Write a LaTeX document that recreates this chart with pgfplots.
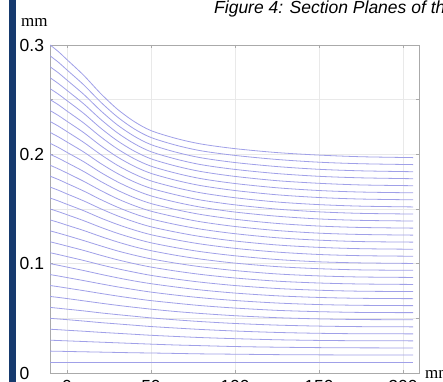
\documentclass[border=0pt]{standalone}
\usepackage{fontspec}
\setmainfont{Liberation Sans}
\newfontfamily\timesfont{Liberation Serif}
\usepackage{pgfplots}
\usepackage{pgfplotstable}
\pgfplotsset{compat=1.18}
\definecolor{meshline}{RGB}{160,160,232}
\definecolor{barblue}{RGB}{22,58,110}
\definecolor{gridgray}{RGB}{233,233,233}
\definecolor{framegray}{RGB}{170,170,170}

\pgfplotstableread{
x y0 y1 y2 y3 y4 y5 y6 y7 y8 y9 y10 y11 y12 y13 y14 y15 y16 y17 y18 y19 y20 y21 y22 y23 y24 y25 y26 y27 y28 y29
-10 0.3000 0.2900 0.2800 0.2700 0.2600 0.2500 0.2400 0.2300 0.2200 0.2100 0.2000 0.1900 0.1800 0.1700 0.1600 0.1500 0.1400 0.1300 0.1200 0.1100 0.1000 0.0900 0.0800 0.0700 0.0600 0.0500 0.0400 0.0300 0.0200 0.0100
-5 0.2938 0.2841 0.2744 0.2646 0.2549 0.2452 0.2354 0.2257 0.2159 0.2062 0.1964 0.1866 0.1769 0.1671 0.1573 0.1475 0.1377 0.1279 0.1181 0.1083 0.0985 0.0887 0.0789 0.0691 0.0592 0.0494 0.0396 0.0297 0.0199 0.0100
0 0.2866 0.2772 0.2679 0.2585 0.2491 0.2396 0.2302 0.2208 0.2113 0.2018 0.1924 0.1829 0.1734 0.1638 0.1543 0.1448 0.1352 0.1257 0.1161 0.1065 0.0969 0.0873 0.0777 0.0681 0.0584 0.0488 0.0391 0.0294 0.0197 0.0100
10 0.2722 0.2635 0.2548 0.2461 0.2374 0.2286 0.2198 0.2109 0.2021 0.1932 0.1843 0.1753 0.1664 0.1574 0.1484 0.1393 0.1303 0.1211 0.1121 0.1029 0.0937 0.0845 0.0753 0.0660 0.0568 0.0475 0.0382 0.0288 0.0194 0.0100
20 0.2557 0.2479 0.2400 0.2321 0.2241 0.2161 0.2080 0.1999 0.1917 0.1835 0.1753 0.1670 0.1587 0.1503 0.1418 0.1333 0.1249 0.1163 0.1077 0.0990 0.0903 0.0816 0.0728 0.0639 0.0550 0.0461 0.0372 0.0282 0.0191 0.0100
30 0.2413 0.2342 0.2269 0.2197 0.2124 0.2050 0.1976 0.1900 0.1825 0.1749 0.1672 0.1594 0.1517 0.1438 0.1359 0.1278 0.1199 0.1117 0.1036 0.0954 0.0871 0.0788 0.0704 0.0619 0.0534 0.0449 0.0363 0.0276 0.0188 0.0100
40 0.2300 0.2233 0.2166 0.2098 0.2030 0.1960 0.1891 0.1820 0.1748 0.1677 0.1604 0.1531 0.1457 0.1383 0.1308 0.1231 0.1155 0.1078 0.1000 0.0922 0.0842 0.0763 0.0682 0.0601 0.0519 0.0437 0.0354 0.0270 0.0185 0.0100
50 0.2217 0.2154 0.2089 0.2024 0.1959 0.1892 0.1826 0.1757 0.1689 0.1620 0.1550 0.1480 0.1409 0.1337 0.1265 0.1191 0.1119 0.1044 0.0969 0.0893 0.0817 0.0740 0.0662 0.0584 0.0504 0.0425 0.0345 0.0264 0.0183 0.0100
65 0.2145 0.2083 0.2019 0.1956 0.1892 0.1827 0.1762 0.1695 0.1629 0.1562 0.1494 0.1426 0.1357 0.1288 0.1218 0.1146 0.1076 0.1004 0.0932 0.0859 0.0786 0.0712 0.0638 0.0562 0.0486 0.0411 0.0334 0.0256 0.0179 0.0100
80 0.2094 0.2032 0.1968 0.1905 0.1842 0.1777 0.1713 0.1647 0.1581 0.1516 0.1449 0.1382 0.1315 0.1247 0.1179 0.1109 0.1041 0.0971 0.0901 0.0830 0.0759 0.0688 0.0616 0.0544 0.0470 0.0398 0.0324 0.0250 0.0175 0.0100
100 0.2052 0.1990 0.1925 0.1862 0.1798 0.1733 0.1669 0.1603 0.1538 0.1472 0.1406 0.1340 0.1274 0.1207 0.1140 0.1072 0.1005 0.0937 0.0869 0.0800 0.0731 0.0663 0.0594 0.0524 0.0453 0.0384 0.0314 0.0242 0.0172 0.0100
125 0.2016 0.1953 0.1888 0.1824 0.1759 0.1694 0.1630 0.1564 0.1499 0.1434 0.1368 0.1303 0.1237 0.1171 0.1106 0.1038 0.0973 0.0906 0.0840 0.0773 0.0706 0.0640 0.0573 0.0506 0.0438 0.0371 0.0304 0.0236 0.0168 0.0100
150 0.1993 0.1928 0.1863 0.1799 0.1735 0.1669 0.1605 0.1540 0.1474 0.1409 0.1344 0.1279 0.1215 0.1149 0.1084 0.1017 0.0954 0.0888 0.0823 0.0757 0.0691 0.0626 0.0561 0.0495 0.0429 0.0363 0.0298 0.0232 0.0166 0.0100
175 0.1978 0.1914 0.1849 0.1785 0.1720 0.1655 0.1591 0.1526 0.1460 0.1396 0.1331 0.1267 0.1202 0.1137 0.1073 0.1007 0.0943 0.0878 0.0814 0.0748 0.0683 0.0619 0.0554 0.0489 0.0424 0.0359 0.0295 0.0230 0.0165 0.0100
206 0.1970 0.1906 0.1841 0.1777 0.1713 0.1648 0.1584 0.1519 0.1454 0.1390 0.1325 0.1261 0.1197 0.1132 0.1068 0.1002 0.0939 0.0874 0.0810 0.0745 0.0680 0.0616 0.0552 0.0487 0.0422 0.0358 0.0294 0.0229 0.0165 0.0100
}\meshdata

\begin{document}
\begin{tikzpicture}
\useasboundingbox (0,0) rectangle (443bp,382bp);
\clip (0,0) rectangle (443bp,382bp);
\fill[white] (0,0) rectangle (443bp,382bp);
\fill[barblue] (9bp,0) rectangle (16bp,382bp);
\node[anchor=north west, inner sep=0pt, font=\fontsize{17.5bp}{20bp}\selectfont\itshape] at (214bp,381bp) {Figure 4: Section Planes of the};
\node[anchor=base west, inner sep=0pt, font=\fontsize{17bp}{20bp}\timesfont] at (21bp,355bp) {mm};
\node[anchor=base west, inner sep=0pt, font=\fontsize{17bp}{20bp}\timesfont] at (425bp,4bp) {mm};
\begin{axis}[
  at={(50bp,9bp)}, anchor=south west,
  scale only axis, width=369bp, height=328bp,
  xmin=-10.1, xmax=209.5, ymin=0, ymax=0.3,
  xtick={0,50,100,150,200},
  xticklabels={0,50,100,150,200},
  ytick={0,0.05,0.1,0.15,0.2,0.25,0.3},
  yticklabels={0,,0.1,,0.2,,0.3},
  grid=major,
  major grid style={gridgray, line width=0.5bp},
  axis line style={framegray, line width=0.6bp},
  tick style={framegray, line width=0.5bp},
  major tick length=3bp,
  tick align=inside,
  ticklabel style={font=\fontsize{17.5bp}{20bp}\selectfont},
  /pgf/number format/assume math mode=true,
  yticklabel style={anchor=west, xshift=-33.8bp},
  xticklabel style={yshift=-3.5bp},
  clip=true,
]
\pgfplotsinvokeforeach{0,...,29}{
  \addplot[meshline, line width=0.8bp, smooth, no marks] table[x=x, y=y#1] {\meshdata};
}
\end{axis}
\end{tikzpicture}
\end{document}
